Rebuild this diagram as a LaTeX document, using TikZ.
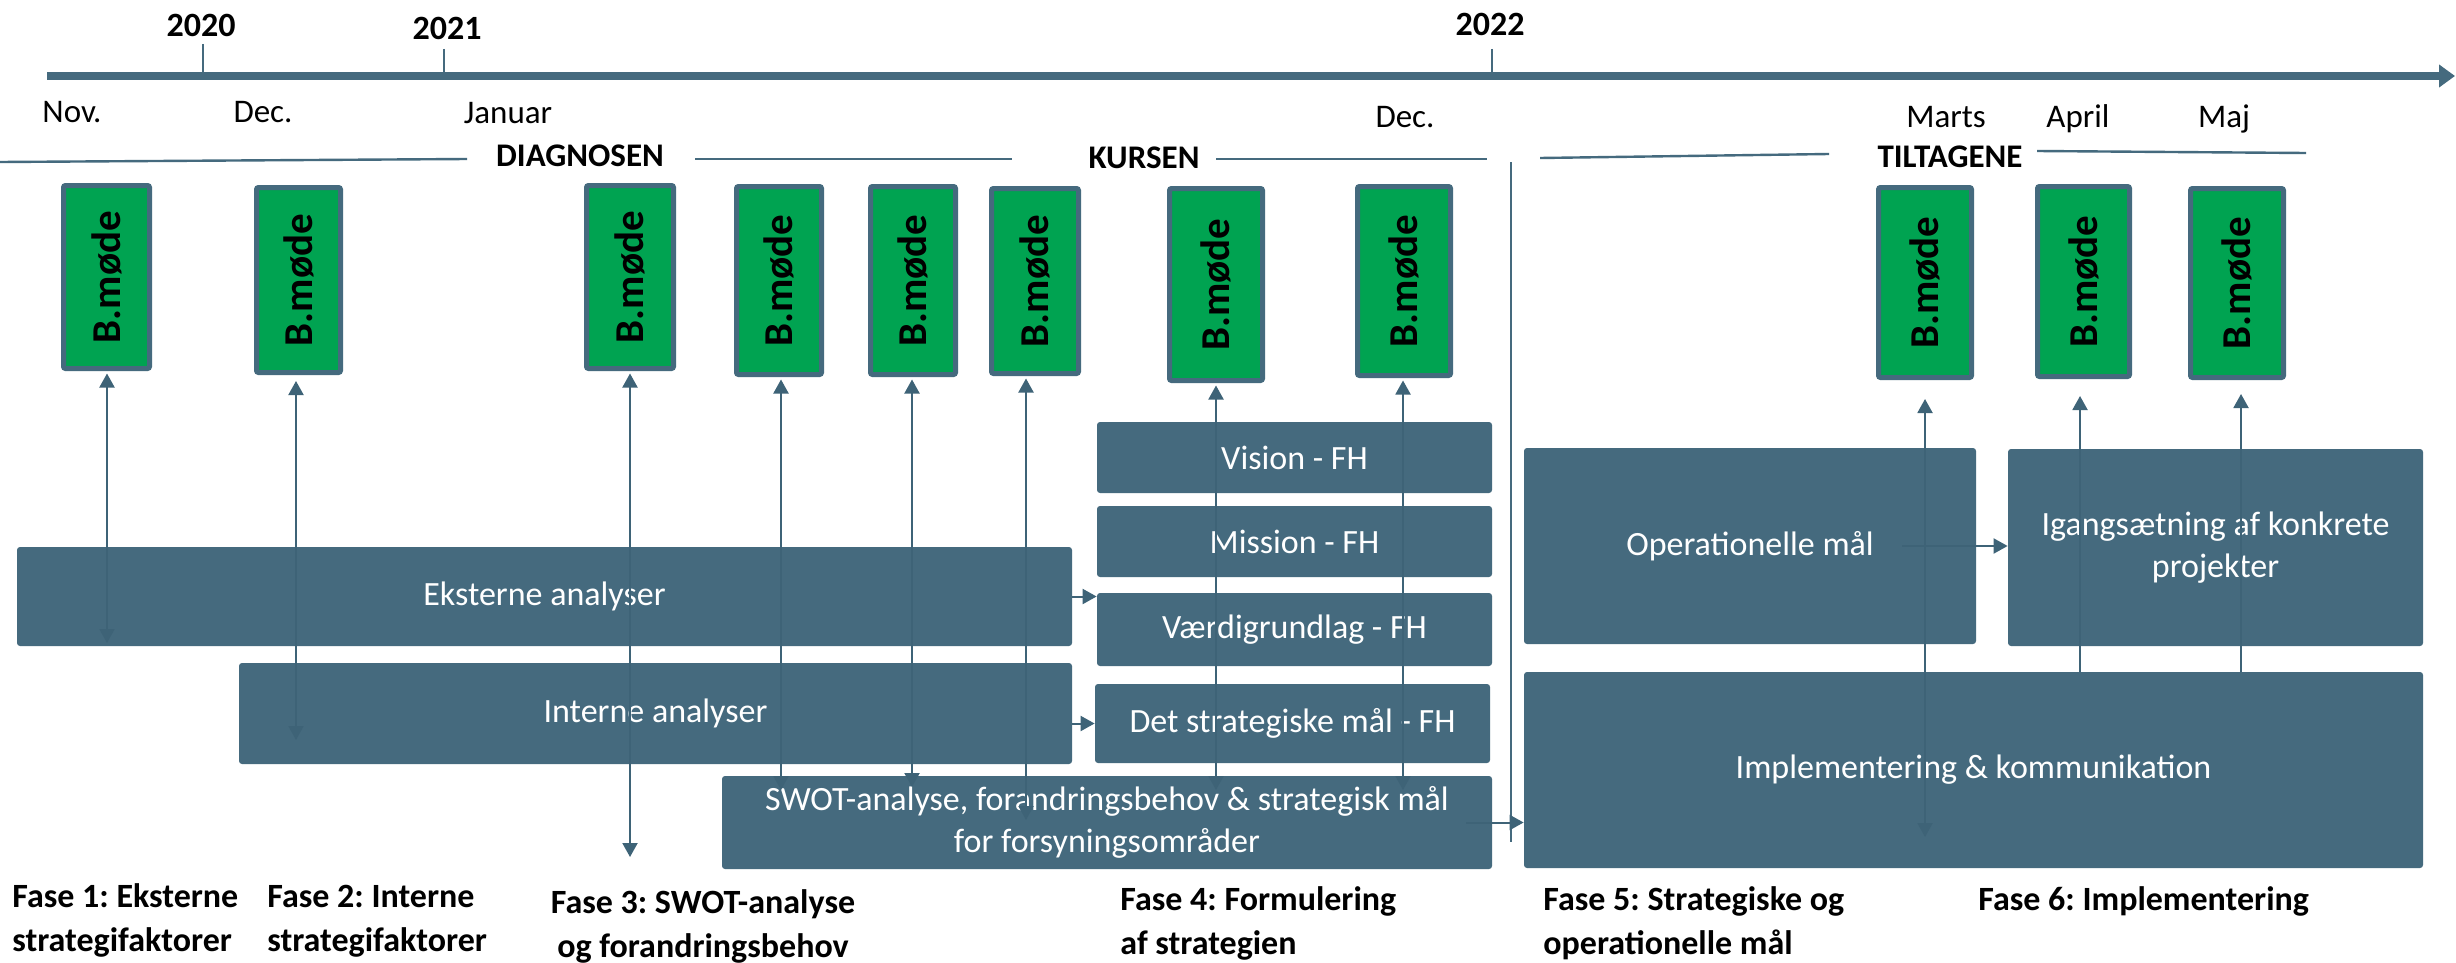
\documentclass[tikz,border=0pt]{standalone}
\usepackage{fontspec}
\setmainfont{Carlito}
\usepackage{graphicx}
\usetikzlibrary{arrows.meta}
\definecolor{boxc}{RGB}{69,106,126}
\definecolor{linec}{RGB}{62,99,119}
\definecolor{bmgreen}{RGB}{0,163,81}
\frenchspacing
\begin{document}
\frenchspacing
\begin{tikzpicture}[x=0.5pt,y=-0.5pt,
  bluebox/.style={fill=boxc, rounded corners=1.5pt, inner sep=0pt, text=white,
    font=\fontsize{17}{21}\selectfont, align=center},
  bm/.style={fill=bmgreen, draw=boxc, line width=2.5pt, rounded corners=1pt, inner sep=0pt,
    font=\fontsize{20.5}{24}\selectfont\bfseries},
  month/.style={anchor=base, inner sep=0pt, font=\fontsize{16.5}{20}\selectfont},
  yearlab/.style={anchor=base, inner sep=0pt, font=\fontsize{17}{20}\selectfont\bfseries},
  phaselab/.style={anchor=base, inner sep=0pt, font=\fontsize{16.5}{20}\selectfont\bfseries},
  faselab/.style={anchor=base west, inner sep=0pt, font=\fontsize{17}{22}\selectfont\bfseries},
  hline/.style={draw=boxc, line width=1.2pt},
  tickline/.style={draw=boxc, line width=1pt},
  conn/.style={draw=linec, line width=1pt},
  arr/.style={conn, -{Triangle[length=7pt,width=7.5pt]}},
  arrb/.style={conn, {Triangle[length=7pt,width=7.5pt]}-{Triangle[length=7pt,width=7.5pt]}}
]
\useasboundingbox (0,0) rectangle (2456,963);
\fill[white] (0,0) rectangle (2456,963);

% timeline
\coordinate (tl0) at (47,76);
\coordinate (tl1) at (2455,76);
\draw[draw=boxc, line width=4pt, -{Triangle[length=8pt,width=11pt]}] (tl0) -- (tl1);
\draw[tickline] (203,44) -- (203,72);
\draw[tickline] (444,49) -- (444,72);
\draw[tickline] (1492,49) -- (1492,72);

\node[yearlab] (y20) at (201,37) {2020};
\node[yearlab] (y21) at (447,40) {2021};
\node[yearlab] (y22) at (1490,36) {2022};

\node[month] (m1) at (72,123) {Nov.};
\node[month] (m2) at (263,123) {Dec.};
\node[month] (m3) at (508,124) {Januar};
\node[month] (m4) at (1405,127) {Dec.};
\node[month] (m5) at (1946,127) {Marts};
\node[month] (m6) at (2078,127) {April};
\node[month] (m7) at (2224,127) {Maj};

% phase header lines
\draw[hline] (0,162) -- (467,159);
\draw[hline] (695,159) -- (1012,159);
\draw[hline] (1216,159) -- (1487,159);
\draw[hline] (1540,158) -- (1829,154);
\draw[hline] (2037,151) -- (2306,153);
\draw[draw=boxc, line width=1pt] (1511,162) -- (1511,842);

\node[phaselab] (p1) at (580,166) {DIAGNOSEN};
\node[phaselab] (p2) at (1144,169) {KURSEN};
\node[phaselab] (p3) at (1950,167) {TILTAGENE};

% board meetings
\node[bm, minimum width=43pt, minimum height=91.5pt] (bm1) at (106.5,277) {\rotatebox{90}{B.møde}};
\node[bm, minimum width=42pt, minimum height=92.5pt] (bm2) at (298.5,280) {\rotatebox{90}{B.møde}};
\node[bm, minimum width=43.5pt, minimum height=91.5pt] (bm3) at (630,277) {\rotatebox{90}{B.møde}};
\node[bm, minimum width=42.5pt, minimum height=94pt] (bm4) at (779,280.5) {\rotatebox{90}{B.møde}};
\node[bm, minimum width=42.5pt, minimum height=94pt] (bm5) at (913,280.5) {\rotatebox{90}{B.møde}};
\node[bm, minimum width=43.5pt, minimum height=92.5pt] (bm6) at (1035,281) {\rotatebox{90}{B.møde}};
\node[bm, minimum width=46.5pt, minimum height=96pt] (bm7) at (1216,284.5) {\rotatebox{90}{B.møde}};
\node[bm, minimum width=46.5pt, minimum height=94.5pt] (bm8) at (1404,281) {\rotatebox{90}{B.møde}};
\node[bm, minimum width=46.5pt, minimum height=95pt] (bm9) at (1925,282.5) {\rotatebox{90}{B.møde}};
\node[bm, minimum width=46pt, minimum height=95pt] (bm10) at (2083.5,281.5) {\rotatebox{90}{B.møde}};
\node[bm, minimum width=46.5pt, minimum height=94.5pt] (bm11) at (2237,283) {\rotatebox{90}{B.møde}};

% blue boxes
\node[bluebox, minimum width=527.5pt, minimum height=49.5pt] (eks) at (544.5,596.5) {Eksterne analyser};
\node[bluebox, minimum width=416.5pt, minimum height=50.5pt] (int) at (655.5,713.5) {Interne analyser};
\node[bluebox, minimum width=385pt, minimum height=46.5pt] (swot) at (1107,822.5) {SWOT-analyse, forandringsbehov \& strategisk mål\\for forsyningsområder};
\node[bluebox, minimum width=197.5pt, minimum height=35.5pt] (vis) at (1294.5,457.5) {Vision - FH};
\node[bluebox, minimum width=197.5pt, minimum height=35.5pt] (mis) at (1294.5,541.5) {Mission - FH};
\node[bluebox, minimum width=197.5pt, minimum height=36.5pt] (vaer) at (1294.5,629.5) {Værdigrundlag - FH};
\node[bluebox, minimum width=197.5pt, minimum height=39.5pt] (det) at (1292.5,723.5) {Det strategiske mål - FH};
\node[bluebox, minimum width=226pt, minimum height=98pt] (ope) at (1750,546) {Operationelle mål};
\node[bluebox, minimum width=207.5pt, minimum height=98.5pt] (iga) at (2215.5,547.5) {Igangsætning af konkrete\\projekter};
\node[bluebox, minimum width=449.5pt, minimum height=98pt] (imp) at (1973.5,770) {Implementering \& kommunikation};

% arrow start points
\coordinate (a1s) at (107,643);
\coordinate (a2s) at (296,740);
\coordinate (a3s) at (630,857);
\coordinate (a4s) at (781,790);
\coordinate (a5s) at (912,787);
\coordinate (a6s) at (1026,820);
\coordinate (a7s) at (1216,790);
\coordinate (a8s) at (1403,790);
\coordinate (a9s) at (1925,837);
\coordinate (a10s) at (2080,672);
\coordinate (a11s) at (2241,672);

\draw[arrb, shorten >=1.25pt] (a1s) -- (a1s |- bm1.south);
\draw[arrb, shorten >=3pt] (a2s) -- (a2s |- bm2.south);
\draw[arrb, shorten >=1.25pt] (a3s) -- (a3s |- bm3.south);
\draw[arrb, shorten >=1.25pt] (a4s) -- (a4s |- bm4.south);
\draw[arrb, shorten >=1.25pt] (a5s) -- (a5s |- bm5.south);
\draw[arrb, shorten >=1.25pt] (a6s) -- (a6s |- bm6.south);
\draw[arrb, shorten >=1.25pt] (a7s) -- (a7s |- bm7.south);
\draw[arrb, shorten >=1.25pt] (a8s) -- (a8s |- bm8.south);
\draw[arrb, shorten >=9.5pt] (a9s) -- (a9s |- bm9.south);
\draw[arr, shorten >=8.5pt] (a10s) -- (a10s |- bm10.south);
\draw[arr, shorten >=7pt] (a11s) -- (a11s |- bm11.south);

% horizontal arrows
\draw[arr] (eks.east) -- (eks.east -| vaer.west);
\draw[arr] (det.west -| int.east) -- (det.west);
\draw[arr] ([xshift=-13pt]swot.east) -- (swot.east -| imp.west);
\draw[arr] ([xshift=-37pt]ope.east) -- (ope.east -| iga.west);

% phase labels
\node[faselab] (f1) at (12,907) {\begin{tabular}[t]{@{}l@{}}Fase 1: Eksterne\\strategifaktorer\end{tabular}};
\node[faselab] (f2) at (267,907) {\begin{tabular}[t]{@{}l@{}}Fase 2: Interne\\strategifaktorer\end{tabular}};
\node[anchor=base, inner sep=0pt, font=\fontsize{17}{22}\selectfont\bfseries] (f3) at (703,913) {\begin{tabular}[t]{@{}c@{}}Fase 3: SWOT-analyse\\og forandringsbehov\end{tabular}};
\node[faselab] (f4) at (1120,910) {\begin{tabular}[t]{@{}l@{}}Fase 4: Formulering\\af strategien\end{tabular}};
\node[faselab] (f5) at (1543,910) {\begin{tabular}[t]{@{}l@{}}Fase 5: Strategiske og\\operationelle mål\end{tabular}};
\node[faselab] (f6) at (1978,910) {Fase 6: Implementering};
\end{tikzpicture}
\end{document}
